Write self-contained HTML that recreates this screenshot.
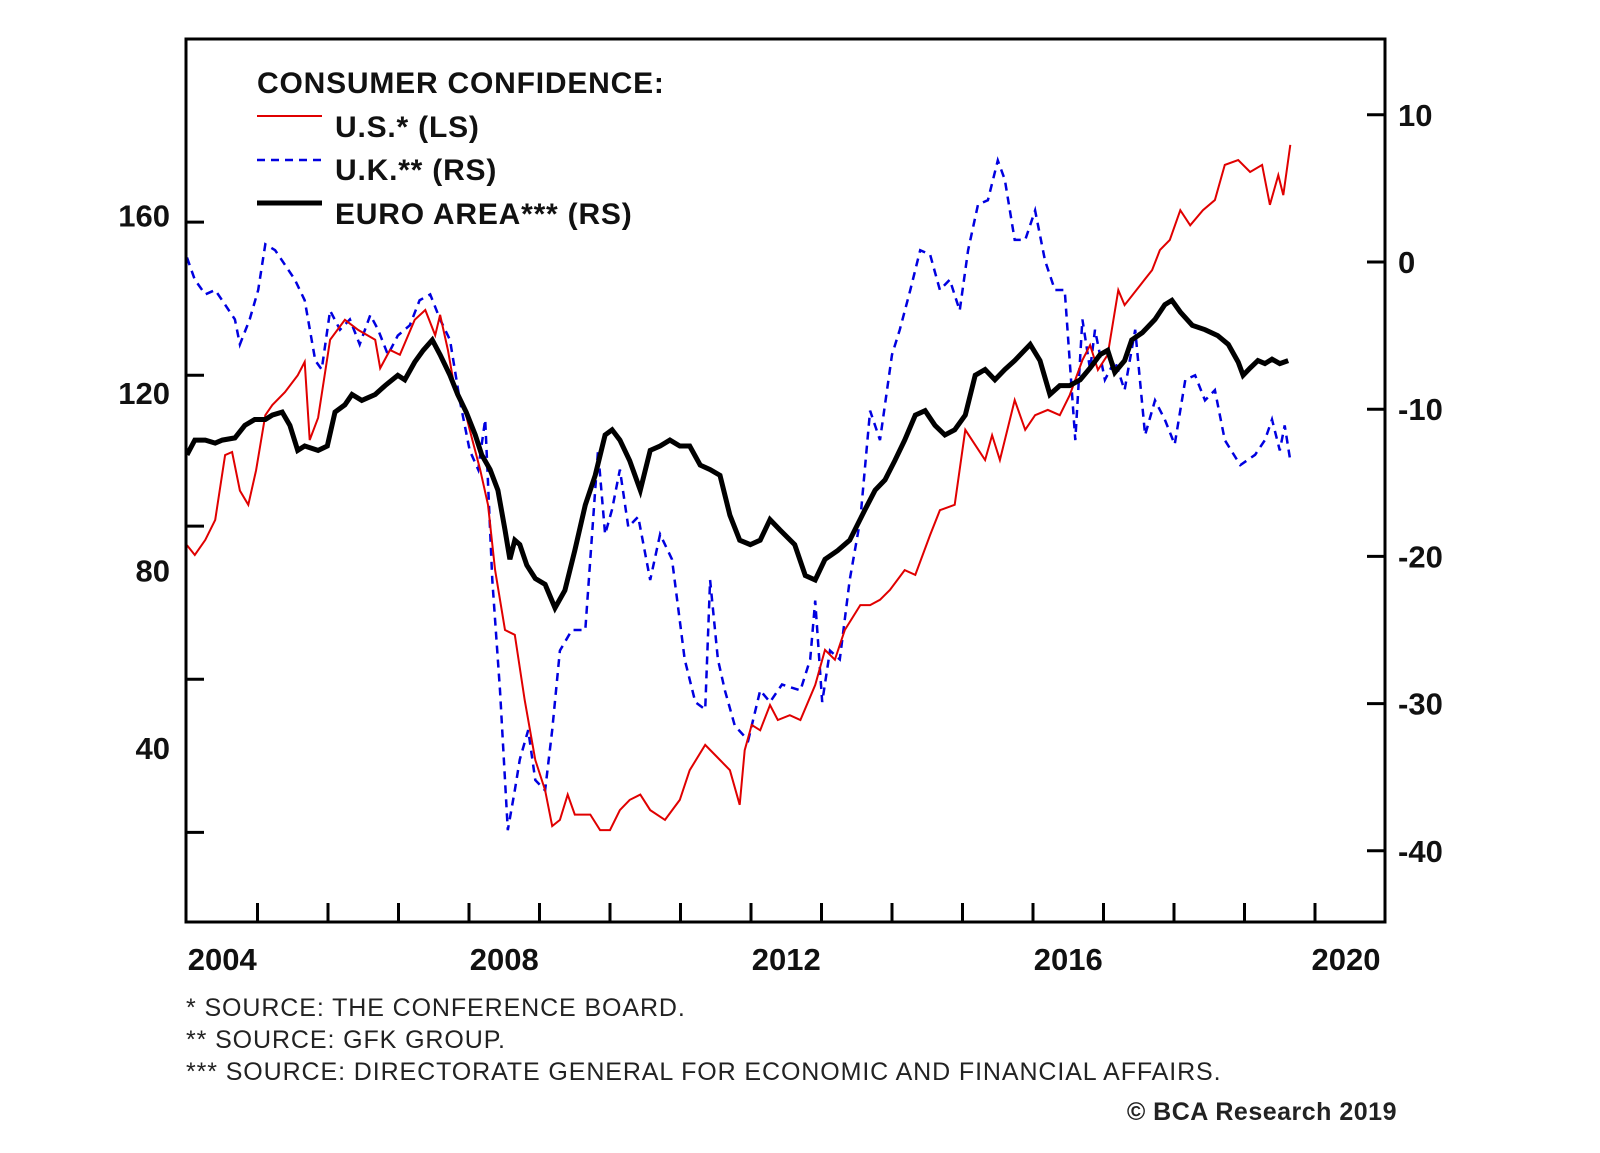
<!DOCTYPE html>
<html><head><meta charset="utf-8"><style>
body{margin:0;background:#fff;}
svg{display:block;font-family:"Liberation Sans",Arial,sans-serif;}
</style></head><body>
<svg id="chart" width="1600" height="1153" viewBox="0 0 1600 1153" xmlns="http://www.w3.org/2000/svg">
<rect width="1600" height="1153" fill="#fff"/>
<g id="series"></g>
<rect x="186" y="39" width="1199" height="883" fill="none" stroke="#000" stroke-width="3"/>
<g id="axes"></g>
<g font-weight="bold" font-size="30" fill="#111" letter-spacing="0.8">
<text x="257" y="93">CONSUMER CONFIDENCE:</text>
<line x1="257" y1="116" x2="322" y2="116" stroke="#e00000" stroke-width="2"/>
<text x="335" y="137">U.S.* (LS)</text>
<line x1="257" y1="160" x2="322" y2="160" stroke="#0000e0" stroke-width="2.5" stroke-dasharray="8,6"/>
<text x="335" y="180">U.K.** (RS)</text>
<line x1="257" y1="203" x2="322" y2="203" stroke="#000" stroke-width="5"/>
<text x="335" y="224">EURO AREA*** (RS)</text>
</g>
<g font-size="25" fill="#222" letter-spacing="0.9">
<text x="186" y="1016">*    SOURCE: THE CONFERENCE BOARD.</text>
<text x="186" y="1048">**  SOURCE: GFK GROUP.</text>
<text x="186" y="1080">*** SOURCE: DIRECTORATE GENERAL FOR ECONOMIC AND FINANCIAL AFFAIRS.</text>
<text x="1397" y="1120" text-anchor="end" font-weight="bold" letter-spacing="0.5">© BCA Research 2019</text>
</g>
</svg>
<script>
const usT=[2004.00,2004.11,2004.26,2004.40,2004.54,2004.64,2004.75,2004.87,2004.98,2005.11,2005.21,2005.39,2005.57,2005.67,2005.74,2005.86,2006.03,2006.24,2006.43,2006.67,2006.74,2006.88,2007.02,2007.23,2007.38,2007.52,2007.59,2007.70,2007.80,2007.94,2008.01,2008.16,2008.27,2008.37,2008.51,2008.65,2008.79,2008.94,2009.08,2009.18,2009.29,2009.40,2009.50,2009.72,2009.86,2010.00,2010.14,2010.28,2010.43,2010.57,2010.78,2010.99,2011.13,2011.35,2011.56,2011.70,2011.84,2011.91,2012.01,2012.13,2012.27,2012.38,2012.55,2012.70,2012.91,2013.05,2013.19,2013.33,2013.55,2013.69,2013.83,2013.97,2014.18,2014.33,2014.54,2014.68,2014.89,2015.04,2015.18,2015.32,2015.42,2015.53,2015.74,2015.89,2016.03,2016.21,2016.38,2016.52,2016.70,2016.81,2016.92,2017.06,2017.21,2017.30,2017.52,2017.69,2017.80,2017.94,2018.09,2018.23,2018.41,2018.58,2018.72,2018.91,2019.08,2019.25,2019.36,2019.48,2019.55,2019.65];
const usV=[85.7,83.5,86.9,91.4,106,106.7,98,94.8,102.6,115,117.3,120.2,124,127,109.4,114.4,132,136.5,134.2,132,125.6,129.7,128.6,136.5,138.7,133,137.6,129.7,120.7,116.2,111.7,102.6,94.8,80.1,66.6,65.5,50.8,37.3,30.5,22.4,23.8,29.5,25,25,21.5,21.5,26,28.3,29.5,26,23.8,28.3,35,40.7,37.3,35,27.2,39.5,45.2,44,49.7,46.3,47.4,46.3,54.2,62.1,59.9,66.6,72.2,72.2,73.4,75.6,80.1,79,88,93.6,94.8,111.7,108.3,104.9,110.5,104.9,118.4,111.7,115,116.2,115,119.5,127.4,130.8,125.2,128.6,143.2,139.8,144.3,147.7,152.2,154.5,161.2,157.8,161.2,163.5,171.4,172.5,169.8,171.4,162.4,169.1,164.6,175.9];
const ukT=[2004.00,2004.11,2004.26,2004.40,2004.54,2004.68,2004.75,2004.89,2005.01,2005.11,2005.25,2005.39,2005.53,2005.67,2005.82,2005.91,2006.03,2006.17,2006.31,2006.45,2006.60,2006.71,2006.85,2006.99,2007.16,2007.30,2007.45,2007.59,2007.73,2007.87,2008.01,2008.13,2008.23,2008.33,2008.44,2008.55,2008.65,2008.72,2008.84,2008.94,2009.08,2009.18,2009.29,2009.46,2009.65,2009.72,2009.83,2009.93,2010.03,2010.14,2010.26,2010.40,2010.57,2010.71,2010.88,2011.06,2011.21,2011.35,2011.42,2011.53,2011.63,2011.77,2011.96,2012.13,2012.27,2012.44,2012.70,2012.84,2012.91,2013.01,2013.12,2013.26,2013.40,2013.55,2013.69,2013.83,2014.00,2014.11,2014.26,2014.40,2014.54,2014.68,2014.82,2014.96,2015.08,2015.22,2015.36,2015.50,2015.60,2015.74,2015.89,2016.03,2016.17,2016.31,2016.45,2016.60,2016.70,2016.81,2016.88,2017.02,2017.16,2017.30,2017.45,2017.59,2017.73,2017.87,2018.01,2018.16,2018.30,2018.44,2018.58,2018.72,2018.94,2019.15,2019.29,2019.39,2019.50,2019.57,2019.65];
const ukV=[0.3,-1.2,-2.2,-1.9,-2.9,-3.9,-5.6,-3.9,-1.9,1.2,0.8,-0.2,-1.2,-2.6,-6.7,-7.3,-3.3,-4.6,-3.9,-5.6,-3.6,-4.6,-6.3,-5.0,-4.3,-2.6,-2.2,-3.9,-5.3,-9.4,-12.8,-14.1,-10.7,-21.6,-29.1,-38.6,-35.9,-33.8,-31.8,-35.2,-35.9,-31.8,-26.4,-25.0,-25.0,-20.2,-12.8,-18.5,-16.8,-14.1,-18.0,-17.3,-21.6,-18.5,-20.2,-27.0,-29.9,-30.4,-21.6,-27.0,-29.1,-31.5,-32.5,-29.1,-29.9,-28.7,-29.1,-27.0,-23.0,-29.9,-26.4,-27.0,-21.6,-17.5,-10.1,-12.1,-6.3,-4.6,-1.9,0.8,0.5,-1.9,-1.2,-3.3,0.8,3.9,4.2,6.9,5.6,1.5,1.5,3.5,0.1,-1.9,-1.9,-12.1,-3.9,-7.3,-4.6,-8.0,-6.7,-8.7,-4.6,-11.75,-9.4,-10.7,-12.4,-8.0,-7.7,-9.4,-8.7,-12.1,-13.8,-13.1,-12.1,-10.7,-12.8,-11.1,-13.5];
const euT=[2004.00,2004.11,2004.26,2004.40,2004.50,2004.68,2004.82,2004.96,2005.11,2005.21,2005.35,2005.46,2005.57,2005.67,2005.86,2005.99,2006.10,2006.24,2006.34,2006.48,2006.67,2006.81,2006.99,2007.09,2007.23,2007.35,2007.48,2007.59,2007.73,2007.84,2007.96,2008.09,2008.18,2008.30,2008.41,2008.51,2008.58,2008.65,2008.72,2008.82,2008.94,2009.08,2009.22,2009.36,2009.50,2009.65,2009.79,2009.93,2010.03,2010.14,2010.28,2010.43,2010.57,2010.71,2010.85,2010.99,2011.13,2011.28,2011.42,2011.56,2011.70,2011.84,2011.99,2012.13,2012.27,2012.41,2012.62,2012.77,2012.91,2013.05,2013.23,2013.40,2013.62,2013.76,2013.90,2014.04,2014.18,2014.33,2014.47,2014.61,2014.75,2014.89,2015.04,2015.18,2015.32,2015.46,2015.60,2015.74,2015.96,2016.10,2016.24,2016.38,2016.52,2016.67,2016.81,2016.95,2017.06,2017.16,2017.30,2017.40,2017.55,2017.73,2017.87,2017.97,2018.09,2018.26,2018.44,2018.62,2018.77,2018.91,2018.98,2019.08,2019.19,2019.29,2019.39,2019.50,2019.62];
const euV=[-13.1,-12.1,-12.1,-12.3,-12.1,-11.95,-11.1,-10.7,-10.7,-10.4,-10.2,-11.1,-12.8,-12.5,-12.8,-12.5,-10.2,-9.7,-9.0,-9.4,-9.0,-8.4,-7.7,-8.0,-6.8,-6.0,-5.3,-6.3,-7.7,-9.0,-10.2,-11.75,-13.1,-14.1,-15.5,-18.2,-20.2,-18.9,-19.2,-20.6,-21.5,-21.9,-23.5,-22.3,-19.6,-16.5,-14.5,-11.75,-11.4,-12.1,-13.5,-15.5,-12.8,-12.5,-12.1,-12.5,-12.5,-13.8,-14.1,-14.5,-17.2,-18.9,-19.2,-18.9,-17.5,-18.2,-19.2,-21.3,-21.6,-20.2,-19.6,-18.9,-16.8,-15.5,-14.8,-13.5,-12.1,-10.4,-10.1,-11.1,-11.75,-11.4,-10.4,-7.7,-7.3,-8.0,-7.3,-6.7,-5.6,-6.7,-9.0,-8.4,-8.4,-8.0,-7.2,-6.3,-6.0,-7.5,-6.7,-5.3,-4.8,-3.9,-2.9,-2.6,-3.4,-4.3,-4.6,-5.0,-5.6,-6.8,-7.7,-7.2,-6.7,-6.9,-6.6,-6.9,-6.7];
const leftTicks=[160,120,80,40];
const rightTicks=[10,0,-10,-20,-30,-40];
const yearLabels=[2004,2008,2012,2016,2020];
const yearTicks=[2005,2006,2007,2008,2009,2010,2011,2012,2013,2014,2015,2016,2017,2018,2019,2020];
const leftMinorTicks=[158.5,124,90,55.5,21];

const X=t=>187+(t-2004)*70.5;
const YL=v=>393-(v-120)*4.4375;
const YR=v=>262-v*14.72;
const NS='http://www.w3.org/2000/svg';
function mk(tag,attrs,parent){const e=document.createElementNS(NS,tag);for(const k in attrs)e.setAttribute(k,attrs[k]);parent.appendChild(e);return e;}
const sg=document.getElementById('series'),ag=document.getElementById('axes');
function line(ts,vs,yf,stroke,w,dash,name){
  const d=ts.map((t,i)=>(i?'L':'M')+X(t).toFixed(1)+' '+yf(vs[i]).toFixed(1)).join(' ');
  const p=mk('path',{d:d,fill:'none',stroke:stroke,'stroke-width':w,'stroke-linejoin':'miter'},sg);
  if(dash)p.setAttribute('stroke-dasharray',dash);
  
  
}
line(ukT,ukV,YR,'#0000e0',2.5,'8,6','uk-line');
line(usT,usV,YL,'#e00000',2,null,'us-line');
line(euT,euV,YR,'#000',5,null,'euro-area-line');

leftTicks.forEach(v=>{
  const t=mk('text',{x:170,y:YL(v)+11,'text-anchor':'end','font-size':31,'font-weight':'bold',fill:'#111'},ag);
  t.textContent=v;
  
  
});
leftMinorTicks.forEach(v=>{
  const l=mk('line',{x1:186,x2:204,y1:YL(v),y2:YL(v),stroke:'#000','stroke-width':3},ag);
  
  
});
rightTicks.forEach(v=>{
  const t=mk('text',{x:1398,y:YR(v)+11,'font-size':31,'font-weight':'bold',fill:'#111'},ag);
  t.textContent=v;
  
  
  const l=mk('line',{x1:1367,x2:1385,y1:YR(v),y2:YR(v),stroke:'#000','stroke-width':3},ag);
  
  
});
yearTicks.forEach(y=>{
  const l=mk('line',{x1:X(y),x2:X(y),y1:903,y2:922,stroke:'#000','stroke-width':3},ag);
  
  
});
yearLabels.forEach(y=>{
  const cx=Math.min(X(y+0.5),1346);
  const t=mk('text',{x:cx,y:970,'text-anchor':'middle','font-size':31,'font-weight':'bold',fill:'#111'},ag);
  t.textContent=y;
  
  
});
</script>
</body></html>
